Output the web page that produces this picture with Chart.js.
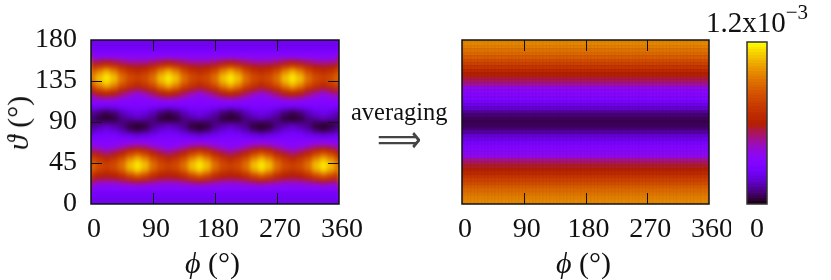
<!DOCTYPE html>
<html>
<head>
<meta charset="utf-8">
<style>
html,body{margin:0;padding:0;background:#fff;width:831px;height:280px;overflow:hidden}
canvas{position:absolute;top:0}
.t{position:absolute;font-family:"Liberation Serif",serif;color:#111;white-space:nowrap;line-height:1}
sup{font-size:21px;position:relative;top:-13px;vertical-align:baseline}
</style>
<script src="https://cdn.jsdelivr.net/npm/chart.js@4/dist/chart.umd.min.js"></script>
</head>
<body>
<canvas id="left" style="left:0"></canvas>
<canvas id="right" style="left:371px"></canvas>
<canvas id="bar" style="left:720px"></canvas>
<div class="t" style="left:351px;top:100px;font-size:24.5px">averaging</div>
<div class="t" style="left:377px;top:118px;font-size:42px;color:#444;font-family:'DejaVu Sans';transform-origin:0 50%;transform:scale(0.74,0.9)">&#10233;</div>
<div class="t" style="left:706px;top:8px;font-size:29px">1.2x10<sup>&minus;3</sup></div>
<div class="t" style="left:185px;top:248px;font-size:30px"><i>&#981;</i>&nbsp;(&deg;)</div>
<div class="t" style="left:556px;top:248px;font-size:30px"><i>&#981;</i>&nbsp;(&deg;)</div>
<div class="t" style="left:18px;top:123px;font-size:30px;transform:translate(-50%,-50%) rotate(-90deg)"><i>&#977;</i>&nbsp;(&deg;)</div>
<script>
// Values are in units of 1e-5 (colour scale 0 .. 120)
const phiTicks = [0, 90, 180, 270, 360];
const thetaTicks = [0, 45, 90, 135, 180];
const phiGrid = [0,11.25,22.5,33.75,45,56.25,67.5,78.75,90,101.25,112.5,123.75,135,146.25,157.5,168.75,180,191.25,202.5,213.75,225,236.25,247.5,258.75,270,281.25,292.5,303.75,315,326.25,337.5,348.75,360];
const thetaGrid = [180,175,170,165,160,155,150,145,140,135,130,125,120,115,110,105,100,95,90,85,80,75,70,65,60,55,50,45,40,35,30,25,20,15,10,5,0];
const mapValues = [
[22,22,22,22,22,22,22,22,22,22,22,22,22,22,22,22,22,22,22,22,22,22,22,22,22,22,22,22,22,22,22,22,22],
[23,23,23,23,23,23,23,23,23,23,23,23,23,23,23,23,23,23,23,23,23,23,23,23,23,23,23,23,23,23,23,23,23],
[25,25,25,25,25,25,25,25,25,25,25,25,25,25,25,25,25,25,25,25,25,25,25,25,25,25,25,25,25,25,25,25,25],
[30,30,30,30,30,30,30,30,30,30,30,30,30,30,30,30,30,30,30,30,30,30,30,30,30,30,30,30,30,30,30,30,30],
[37,38,39,38,37,35,35,35,37,38,39,38,37,35,35,35,37,38,39,38,37,35,35,35,37,38,39,38,37,35,35,35,37],
[52,56,59,56,52,48,48,48,52,56,59,56,52,48,48,48,52,56,59,56,52,48,48,48,52,56,59,56,52,48,48,48,52],
[66,76,83,76,66,60,58,60,66,76,83,76,66,60,58,60,66,76,83,76,66,60,58,60,66,76,83,76,66,60,58,60,66],
[80,96,106,96,80,70,66,70,80,96,106,96,80,70,66,70,80,96,106,96,80,70,66,70,80,96,106,96,80,70,66,70,80],
[90,108,116,108,90,79,75,79,90,108,116,108,90,79,75,79,90,108,116,108,90,79,75,79,90,108,116,108,90,79,75,79,90],
[90,108,116,108,90,78,73,78,90,108,116,108,90,78,73,78,90,108,116,108,90,78,73,78,90,108,116,108,90,78,73,78,90],
[80,96,106,96,80,70,64,70,80,96,106,96,80,70,64,70,80,96,106,96,80,70,64,70,80,96,106,96,80,70,64,70,80],
[64,76,84,76,64,56,51,56,64,76,84,76,64,56,51,56,64,76,84,76,64,56,51,56,64,76,84,76,64,56,51,56,64],
[50,58,62,58,50,43,38,43,50,58,62,58,50,43,38,43,50,58,62,58,50,43,38,43,50,58,62,58,50,43,38,43,50],
[37,41,43,41,37,34,33,34,37,41,43,41,37,34,33,34,37,41,43,41,37,34,33,34,37,41,43,41,37,34,33,34,37],
[31,31,31,31,31,31,30,31,31,31,31,31,31,31,30,31,31,31,31,31,31,31,30,31,31,31,31,31,31,31,30,31,31],
[24,22,20,22,24,27,27,27,24,22,20,22,24,27,27,27,24,22,20,22,24,27,27,27,24,22,20,22,24,27,27,27,24],
[16,10,7,10,16,21,23,21,16,10,7,10,16,21,23,21,16,10,7,10,16,21,23,21,16,10,7,10,16,21,23,21,16],
[11,5,3,5,11,15,18,15,11,5,3,5,11,15,18,15,11,5,3,5,11,15,18,15,11,5,3,5,11,15,18,15,11],
[10,8,8,8,10,8,8,8,10,8,8,8,10,8,8,8,10,8,8,8,10,8,8,8,10,8,8,8,10,8,8,8,10],
[11,15,18,15,11,5,3,5,11,15,18,15,11,5,3,5,11,15,18,15,11,5,3,5,11,15,18,15,11,5,3,5,11],
[16,21,23,21,16,10,7,10,16,21,23,21,16,10,7,10,16,21,23,21,16,10,7,10,16,21,23,21,16,10,7,10,16],
[24,27,27,27,24,22,20,22,24,27,27,27,24,22,20,22,24,27,27,27,24,22,20,22,24,27,27,27,24,22,20,22,24],
[31,31,30,31,31,31,31,31,31,31,30,31,31,31,31,31,31,31,30,31,31,31,31,31,31,31,30,31,31,31,31,31,31],
[37,34,33,34,37,41,43,41,37,34,33,34,37,41,43,41,37,34,33,34,37,41,43,41,37,34,33,34,37,41,43,41,37],
[50,43,38,43,50,58,62,58,50,43,38,43,50,58,62,58,50,43,38,43,50,58,62,58,50,43,38,43,50,58,62,58,50],
[64,56,51,56,64,76,84,76,64,56,51,56,64,76,84,76,64,56,51,56,64,76,84,76,64,56,51,56,64,76,84,76,64],
[80,70,64,70,80,96,106,96,80,70,64,70,80,96,106,96,80,70,64,70,80,96,106,96,80,70,64,70,80,96,106,96,80],
[90,78,73,78,90,108,116,108,90,78,73,78,90,108,116,108,90,78,73,78,90,108,116,108,90,78,73,78,90,108,116,108,90],
[90,79,75,79,90,108,116,108,90,79,75,79,90,108,116,108,90,79,75,79,90,108,116,108,90,79,75,79,90,108,116,108,90],
[80,70,66,70,80,96,106,96,80,70,66,70,80,96,106,96,80,70,66,70,80,96,106,96,80,70,66,70,80,96,106,96,80],
[66,60,58,60,66,76,83,76,66,60,58,60,66,76,83,76,66,60,58,60,66,76,83,76,66,60,58,60,66,76,83,76,66],
[52,48,48,48,52,56,59,56,52,48,48,48,52,56,59,56,52,48,48,48,52,56,59,56,52,48,48,48,52,56,59,56,52],
[37,35,35,35,37,38,39,38,37,35,35,35,37,38,39,38,37,35,35,35,37,38,39,38,37,35,35,35,37,38,39,38,37],
[30,30,30,30,30,30,30,30,30,30,30,30,30,30,30,30,30,30,30,30,30,30,30,30,30,30,30,30,30,30,30,30,30],
[25,25,25,25,25,25,25,25,25,25,25,25,25,25,25,25,25,25,25,25,25,25,25,25,25,25,25,25,25,25,25,25,25],
[23,23,23,23,23,23,23,23,23,23,23,23,23,23,23,23,23,23,23,23,23,23,23,23,23,23,23,23,23,23,23,23,23],
[22,22,22,22,22,22,22,22,22,22,22,22,22,22,22,22,22,22,22,22,22,22,22,22,22,22,22,22,22,22,22,22,22]
];
const avgPhi = [0,5,10,15,20,25,30,35,40,45,50,55,60,65,70,75,80,85,90,95,100,105,110,115,120,125,130,135,140,145,150,155,160,165,170,175,180,185,190,195,200,205,210,215,220,225,230,235,240,245,250,255,260,265,270,275,280,285,290,295,300,305,310,315,320,325,330,335,340,345,350,355,360];
const avgTheta = [180,176.25,172.5,168.75,165,161.25,157.5,153.75,150,146.25,142.5,138.75,135,131.25,127.5,123.75,120,116.25,112.5,108.75,105,101.25,97.5,93.75,90,86.25,82.5,78.75,75,71.25,67.5,63.75,60,56.25,52.5,48.75,45,41.25,37.5,33.75,30,26.25,22.5,18.75,15,11.25,7.5,3.75,0];
const avgProfile = [98,97,95,92,89,85,80,76,71,65,60,57,53,48,38,35,32,30,26,22,18,13,9,7,6,7,9,13,18,22,26,30,32,35,38,48,53,57,60,65,71,76,80,85,89,92,95,97,98];
const barLevels = [0,2,4,6,8,10,12,14,16,18,20,22,24,26,28,30,32,34,36,38,40,42,44,46,48,50,52,54,56,58,60,62,64,66,68,70,72,74,76,78,80,82,84,86,88,90,92,94,96,98,100,102,104,106,108,110,112,114,116,118,120];
const barLabels = ['0'];

const FONT = '"Liberation Serif", serif';
const INK = '#111';

function rgb(v, k){
  const x = Math.max(0, Math.min(1, v / 120));
  const r = Math.sqrt(x), g = x * x * x, b = Math.max(0, Math.sin(2 * Math.PI * x));
  return `rgb(${Math.round(255*r*k)},${Math.round(255*g*k)},${Math.round(255*b*k)})`;
}
const sprites = {};
function sprite(v, w, h, seam){
  const k = [v, w, h, seam].join('/');
  if (!sprites[k]){
    const c = document.createElement('canvas');
    c.width = w; c.height = h;
    const g = c.getContext('2d');
    g.fillStyle = rgb(v, 1);
    g.fillRect(0, 0, w, h);
    if (seam){
      g.fillStyle = rgb(v, seam);
      g.fillRect(0, 0, w, 1);
      g.fillRect(0, 0, 1, h);
    }
    sprites[k] = c;
  }
  return sprites[k];
}

// smooth the drawn cells, as pm3d interpolation does
const smooth = {
  id: 'smooth',
  afterDatasetsDraw(chart, args, opts){
    if (!opts.sigma) return;
    const a = chart.chartArea, m = 12, w = a.right - a.left, h = a.bottom - a.top;
    const src = document.createElement('canvas');
    src.width = w + 2 * m; src.height = h + 2 * m;
    const s = src.getContext('2d');
    s.drawImage(chart.canvas, a.left, a.top, w, h, 0, 0, w + 2 * m, h + 2 * m);
    s.drawImage(chart.canvas, a.left, a.top, w, h, m, m, w, h);
    const ctx = chart.ctx;
    ctx.save();
    ctx.beginPath(); ctx.rect(a.left, a.top, w, h); ctx.clip();
    ctx.filter = `blur(${opts.sigma}px)`;
    ctx.drawImage(src, a.left - m, a.top - m);
    ctx.restore();
  }
};
// inward ticks on all four sides, and the frame
const frame = {
  id: 'frame',
  afterDatasetsDraw(chart, args, opts){
    const a = chart.chartArea, ctx = chart.ctx, L = 11;
    ctx.save();
    ctx.strokeStyle = opts.color || '#111';
    ctx.lineWidth = 1;
    ctx.beginPath();
    if (opts.xTicks) for (const t of opts.xTicks){
      const p = Math.round(chart.scales.x.getPixelForValue(t)) + 0.5;
      ctx.moveTo(p, a.top); ctx.lineTo(p, a.top + L);
      ctx.moveTo(p, a.bottom); ctx.lineTo(p, a.bottom - L);
    }
    if (opts.yTicks) for (const t of opts.yTicks){
      const p = Math.round(chart.scales.y.getPixelForValue(t)) + 0.5;
      ctx.moveTo(a.left, p); ctx.lineTo(a.left + L, p);
      ctx.moveTo(a.right, p); ctx.lineTo(a.right - L, p);
    }
    ctx.stroke();
    ctx.lineWidth = 1.5;
    ctx.strokeRect(a.left, a.top, a.right - a.left, a.bottom - a.top);
    ctx.restore();
  }
};

function heat(id, width, area, points, cellW, cellH, cfg){
  const el = document.getElementById(id);
  el.width = width; el.height = 280;
  el.style.width = width + 'px'; el.style.height = '280px';
  return new Chart(el, {
    type: 'scatter',
    plugins: [smooth, frame],
    data: { datasets: [{
      data: points,
      clip: 0,
      pointRadius: 3,
      pointStyle: c => c.raw ? sprite(c.raw.v, cellW, cellH, cfg.seam || 0) : 'rect'
    }]},
    options: {
      responsive: false,
      animation: false,
      events: [],
      layout: { padding: { left: 0, top: area.top, right: width - area.right, bottom: 0 } },
      plugins: {
        legend: { display: false },
        tooltip: { enabled: false },
        smooth: { sigma: cfg.sigma || 0 },
        frame: { xTicks: cfg.xFrame, yTicks: cfg.yFrame, color: cfg.frameColor }
      },
      scales: {
        x: {
          type: 'linear', min: cfg.xMin, max: cfg.xMax,
          afterBuildTicks: s => { s.ticks = cfg.xLabels.map(v => ({ value: v })); },
          afterFit: s => { s.height = 280 - area.bottom; s.paddingLeft = 0; s.paddingRight = 0; },
          grid: { display: false, drawTicks: false }, border: { display: false },
          ticks: {
            color: INK, padding: 9, maxRotation: 0, labelOffset: cfg.xOffset || 0, autoSkip: false,
            font: { family: FONT, size: 28 },
            callback: cfg.xCallback || (v => String(v))
          }
        },
        y: {
          type: 'linear', min: cfg.yMin, max: cfg.yMax,
          afterBuildTicks: s => { s.ticks = (cfg.yLabels || []).map(v => ({ value: v })); },
          afterFit: s => { s.width = area.left; s.paddingTop = 0; s.paddingBottom = 0; },
          grid: { display: false, drawTicks: false }, border: { display: false },
          ticks: { display: !!cfg.yLabels, color: INK, padding: 14, autoSkip: false,
            font: { family: FONT, size: 28 }, callback: v => String(v) }
        }
      }
    }
  });
}

const leftPoints = [];
thetaGrid.forEach((t, i) => phiGrid.forEach((p, j) => leftPoints.push({ x: p, y: t, v: mapValues[i][j] })));
const rightPoints = [];
avgTheta.forEach((t, i) => avgPhi.forEach(p => rightPoints.push({ x: p, y: t, v: avgProfile[i] })));
const barPoints = barLevels.map(v => ({ x: 0.5, y: v, v }));

heat('left', 370, { left: 91, right: 339, top: 40, bottom: 204 }, leftPoints, 8, 5, {
  sigma: 2, xMin: 0, xMax: 360, yMin: 0, yMax: 180,
  xLabels: phiTicks, yLabels: thetaTicks, xFrame: [90, 180, 270], yFrame: [45, 90, 135],
  xOffset: 3
});
heat('right', 360, { left: 91, right: 338, top: 40, bottom: 204 }, rightPoints, 4, 4, {
  xMin: 0, xMax: 360, yMin: 0, yMax: 180, seam: 0.95,
  xLabels: phiTicks, xFrame: [90, 180, 270], xOffset: 3
});
heat('bar', 60, { left: 27, right: 47, top: 42, bottom: 204 }, barPoints, 22, 4, {
  xMin: 0, xMax: 1, yMin: 0, yMax: 120, frameColor: '#333',
  xLabels: [0.5], xCallback: () => barLabels[0]
});
</script>
</body>
</html>
